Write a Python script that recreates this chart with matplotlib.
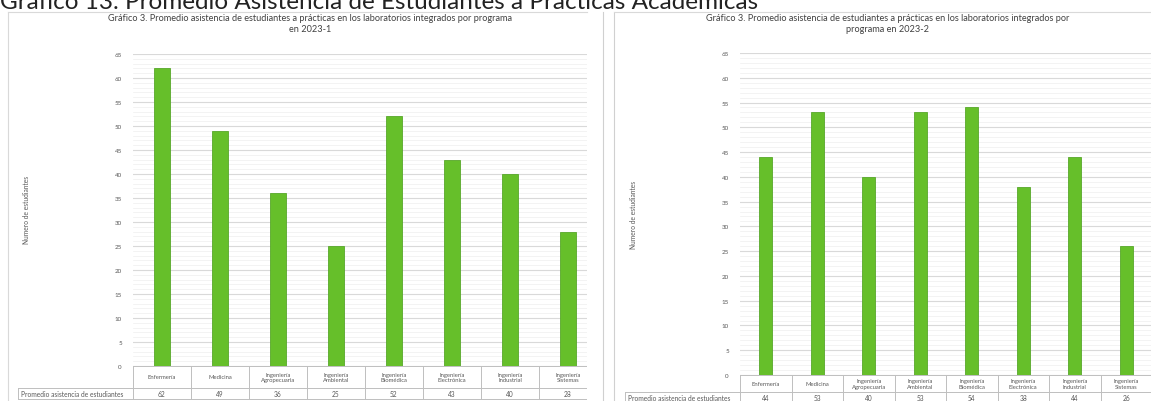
import matplotlib
matplotlib.use("Agg")
import matplotlib.pyplot as plt
import matplotlib.transforms as mtransforms
from matplotlib.lines import Line2D
from matplotlib.patches import Rectangle

# === DATA ===
categorias = ["Enfermería", "Medicina", "Ingeniería\nAgropecuaria", "Ingeniería\nAmbiental",
              "Ingeniería\nBiomédica", "Ingeniería\nElectrónica", "Ingeniería\nIndustrial",
              "Ingeniería\nSistemas"]
asistencia_2023_1 = [62, 49, 36, 25, 52, 43, 40, 28]
asistencia_2023_2 = [44, 53, 40, 53, 54, 38, 44, 26]
titulo_1 = "Gráfico 3. Promedio asistencia de estudiantes a prácticas en los laboratorios integrados por programa\nen 2023-1"
titulo_2 = "Gráfico 3. Promedio asistencia de estudiantes a prácticas en los laboratorios integrados por\nprograma en 2023-2"
titulo_general = "Gráfico 13. Promedio Asistencia de Estudiantes a Prácticas Académicas"
fila_tabla = "Promedio asistencia de estudiantes"
eje_y = "Numero de estudiantes"

W, H = 1151, 402
plt.rcParams['font.family'] = ['Lato', 'DejaVu Sans']
fig = plt.figure(figsize=(W / 100, H / 100), dpi=100)
fig.patch.set_facecolor('white')

BAR = '#66bf2a'
GRID = '#d9d9d9'
MINOR = '#efefef'
TXT = '#595959'
LINE = '#bfbfbf'


def fy(py):
    return 1 - py / H


def fx(px):
    return px / W


def hline(x0, x1, py, color=LINE, lw=0.7, z=6):
    fig.add_artist(Line2D([fx(x0), fx(x1)], [fy(py), fy(py)], color=color, lw=lw,
                          transform=fig.transFigure, zorder=z))


def vline(px, y0, y1, color=LINE, lw=0.7, z=6):
    fig.add_artist(Line2D([fx(px), fx(px)], [fy(y0), fy(y1)], color=color, lw=lw,
                          transform=fig.transFigure, zorder=z))


def panel(valores, titulo, left, right, top, bottom, row1, row2, label_left,
          title_x, title_y, ylabel_x, ylabel_y):
    ax = fig.add_axes([fx(left), fy(bottom), fx(right - left), (bottom - top) / H])
    x = list(range(len(categorias)))
    ax.bar(x, valores, width=0.26, color=BAR, edgecolor='#58a82a', linewidth=0.6, zorder=3)
    ax.set_xlim(-0.5, len(categorias) - 0.5)
    ax.set_ylim(0, 65)
    ax.set_yticks(range(0, 66, 5))
    ax.set_yticks(range(0, 66, 1), minor=True)
    ax.yaxis.grid(True, which='major', color=GRID, lw=0.8, zorder=0)
    ax.yaxis.grid(True, which='minor', color=MINOR, lw=0.5, zorder=0)
    ax.tick_params(axis='y', which='both', length=0, labelsize=4.5, labelcolor=TXT, pad=8)
    ax.set_xticks([])
    for s in ax.spines.values():
        s.set_visible(False)

    # data table under the chart
    tr = mtransforms.blended_transform_factory(ax.transData, fig.transFigure)
    for i, (c, v) in enumerate(zip(categorias, valores)):
        ax.text(i, fy((bottom + row1) / 2), c, transform=tr, ha='center', va='center',
                fontsize=4.2, color=TXT, clip_on=False, linespacing=1.1)
        ax.text(i, fy((row1 + row2) / 2), str(v), transform=tr, ha='center', va='center',
                fontsize=4.8, color=TXT, clip_on=False)
    hline(left, right, bottom)
    hline(label_left, right, row1)
    hline(label_left, right, row2)
    step = (right - left) / len(categorias)
    for k in range(len(categorias) + 1):
        vline(left + k * step, bottom, row2)
    vline(label_left, row1, row2)
    fig.text(fx(label_left + 3), fy((row1 + row2) / 2), fila_tabla, ha='left', va='center',
             fontsize=4.8, color=TXT)

    fig.text(fx(title_x), fy(title_y), titulo, ha='center', va='center', fontsize=6.6,
             color='#404040', linespacing=1.35)
    fig.text(fx(ylabel_x), fy(ylabel_y), eje_y, rotation=90, ha='center', va='center',
             fontsize=4.8, color=TXT)
    return ax


# left chart (2023-1)
panel(asistencia_2023_1, titulo_1, 133, 597, 55, 367, 389, 400, 18,
      310, 24, 27, 210)

# gap between both screenshots (below the header line)
fig.add_artist(Rectangle((fx(587), 0), fx(27), fy(13), transform=fig.transFigure,
                         facecolor='white', edgecolor='none', zorder=7))
# frame of the left panel
hline(8, 587, 13, color='#d9d9d9', lw=0.8, z=8)
vline(8, 13, 402, color='#d9d9d9', lw=0.8, z=8)
vline(603, 13, 402, color='#d0d0d0', lw=0.8, z=8)

# right chart (2023-2)
panel(asistencia_2023_2, titulo_2, 740, 1152, 54, 376, 393, 404, 625,
      888, 24, 633, 215)
vline(614, 13, 402, color='#d0d0d0', lw=0.8, z=8)
hline(614, 1151, 13, color='#d9d9d9', lw=0.8, z=8)

# header text cut by the top of the image
fig.text(0, fy(9), titulo_general, ha='left', va='baseline', fontsize=17.5,
         color='#222222', zorder=10)

fig.savefig("out.png", dpi=100)
